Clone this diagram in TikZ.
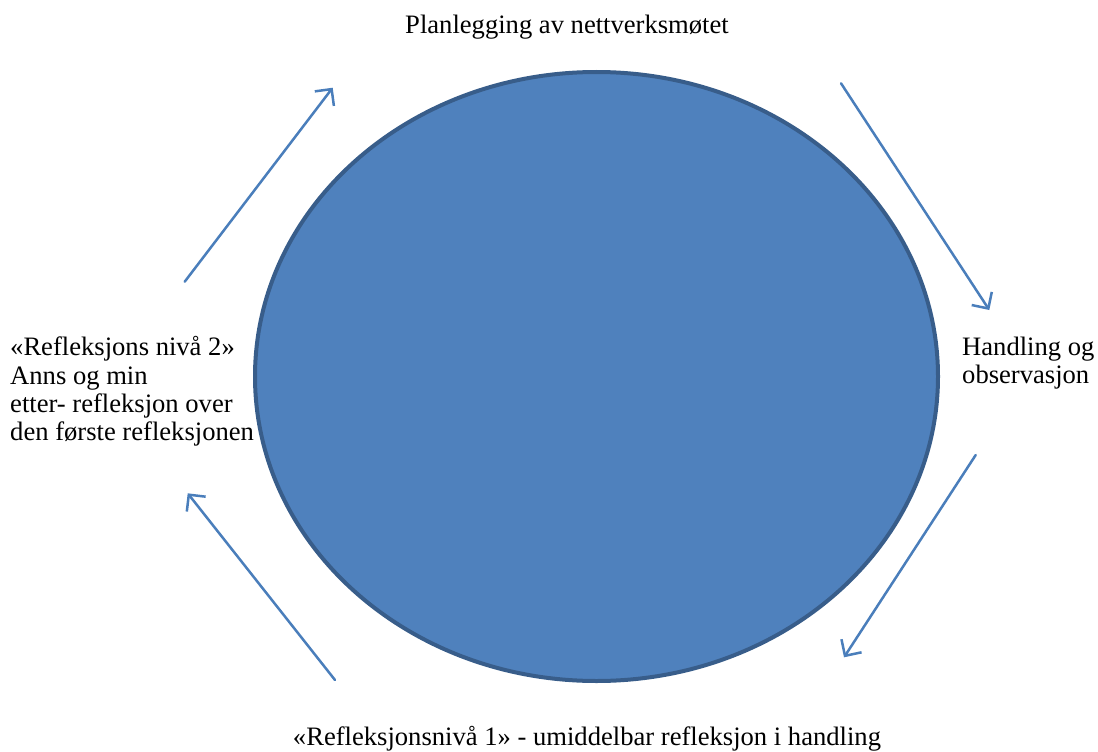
\documentclass[tikz,border=0pt]{standalone}
\usepackage{fontspec}
\setmainfont{Liberation Serif}
\usetikzlibrary{arrows.meta,shapes.geometric}
\definecolor{fillblue}{HTML}{4F81BD}
\definecolor{edgeblue}{HTML}{385D8A}
\definecolor{arrowblue}{HTML}{4A7EBB}
\tikzset{
  lbl/.style={inner sep=0pt, font=\fontsize{26.6}{28.3}\selectfont, text=black},
  cyclearrow/.style={draw=arrowblue, line width=2.5pt, line cap=round,
    -{Straight Barb[length=12pt, width=24pt, line width=2.5pt]}},
  bigellipse/.style={ellipse, draw=edgeblue, fill=fillblue, line width=4pt,
    minimum width=683pt, minimum height=609pt, inner sep=0pt}
}
\begin{document}
\begin{tikzpicture}[x=1pt,y=-1pt]
\useasboundingbox (0,0) rectangle (1098,752);
\node[bigellipse] (ell) at (596.5,376.5) {};
\node[lbl, anchor=base] (top) at (567,33.5) {Planlegging av nettverksmøtet};
\node[lbl, anchor=north west, align=left] (left) at (10,336.5) {«Refleksjons nivå 2»\\Anns og min\\etter- refleksjon over\\den første refleksjonen};
\node[lbl, anchor=north west, align=left] (right) at (962,336.5) {Handling og\\observasjon};
\node[lbl, anchor=base] (bottom) at (587,745) {«Refleksjonsnivå 1» - umiddelbar refleksjon i handling};
\coordinate (a1s) at (184.7,281.7); \coordinate (a1e) at (332.7,87.7);
\coordinate (a2s) at (841,83.3);    \coordinate (a2e) at (989.3,310);
\coordinate (a3s) at (975.7,455);   \coordinate (a3e) at (844,657.3);
\coordinate (a4s) at (335,680);     \coordinate (a4e) at (187.7,493.3);
\draw[cyclearrow] (a1s) -- (a1e);
\draw[cyclearrow] (a2s) -- (a2e);
\draw[cyclearrow] (a3s) -- (a3e);
\draw[cyclearrow] (a4s) -- (a4e);
\end{tikzpicture}
\end{document}
